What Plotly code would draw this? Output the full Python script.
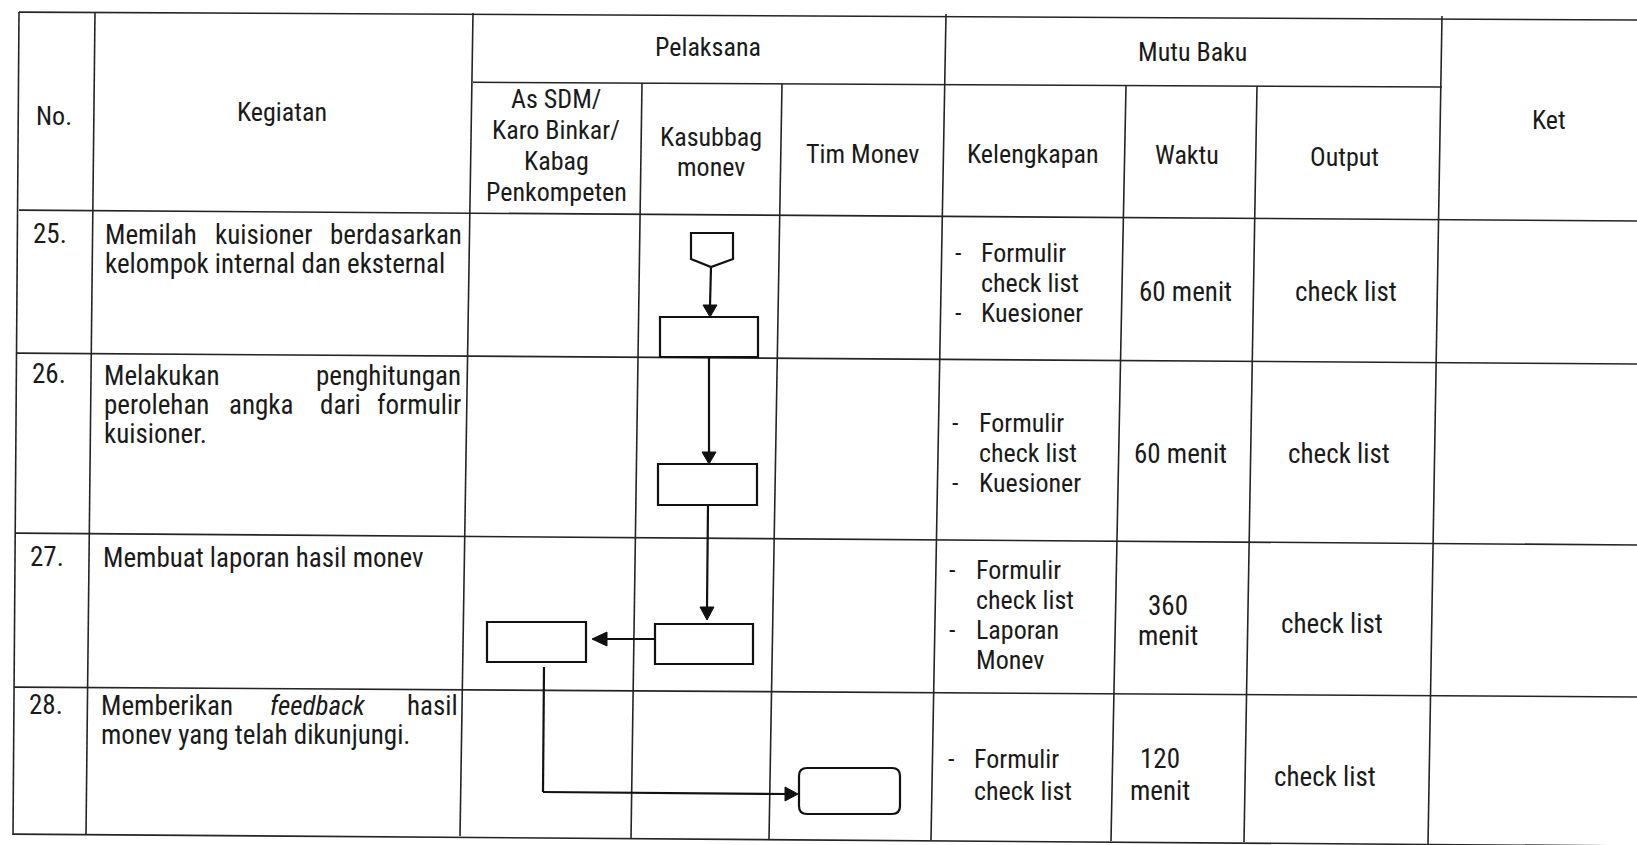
import plotly.graph_objects as go

W, H = 1637, 845

# ---------------- data ----------------
header_no = "No."
header_kegiatan = "Kegiatan"
header_pelaksana = "Pelaksana"
header_mutu = "Mutu Baku"
header_ket = "Ket"
pelaksana_cols = [["As SDM/", "Karo Binkar/", "Kabag", "Penkompeten"],
                  ["Kasubbag", "monev"],
                  ["Tim Monev"]]
mutu_cols = ["Kelengkapan", "Waktu", "Output"]

row_numbers = ["25.", "26.", "27.", "28."]
kegiatan_lines = [
    ["Memilah kuisioner berdasarkan", "kelompok internal dan eksternal"],
    ["Melakukan penghitungan", "perolehan angka dari formulir", "kuisioner."],
    ["Membuat laporan hasil monev"],
    ["Memberikan <i>feedback</i> hasil", "monev yang telah dikunjungi."],
]
kegiatan_justify = [[True, False], [True, True, False], [False], [True, False]]
kelengkapan = [
    [("-", "Formulir"), ("", "check list"), ("-", "Kuesioner")],
    [("-", "Formulir"), ("", "check list"), ("-", "Kuesioner")],
    [("-", "Formulir"), ("", "check list"), ("-", "Laporan"), ("", "Monev")],
    [("-", "Formulir"), ("", "check list")],
]
waktu = [["60 menit"], ["60 menit"], ["360", "menit"], ["120", "menit"]]
output = ["check list", "check list", "check list", "check list"]

# ---------------- style ----------------
FONT = "Liberation Sans Narrow, Arial Narrow, Roboto Condensed, sans-serif"
INK = "#1a1a1a"
LINE = "#242424"
FS_HEAD = 26
FS_BODY = 27
FS_KEL = 26

# Arial widths (em/1000), narrow factor 0.82 (used only to spread justified words)
AW = {c: 556 for c in "abcdeghnopqu0123456789"}
AW.update({"f": 278, "i": 222, "j": 222, "k": 500, "l": 222, "m": 833, "r": 333,
           "s": 500, "t": 278, "v": 500, "w": 722, "x": 500, "y": 500, "z": 500,
           " ": 278, ".": 278, "-": 333, "/": 278, "M": 833, "K": 667, "P": 667})


def text_w(s, fs):
    s = s.replace("<i>", "").replace("</i>", "")
    return sum(AW.get(c, 600) for c in s) / 1000.0 * 0.82 * fs


fig = go.Figure()
shapes = []
annos = []


def seg(x0, y0, x1, y1, w=1.6, color=LINE):
    shapes.append(dict(type="line", x0=x0, y0=y0, x1=x1, y1=y1, xref="x", yref="y",
                       line=dict(color=color, width=w)))


def path(d, fill=None, w=2.2):
    shapes.append(dict(type="path", path=d, xref="x", yref="y",
                       fillcolor=fill if fill else "rgba(0,0,0,0)",
                       line=dict(color="#111", width=w)))


def txt(x, y, s, anchor="center", fs=FS_BODY):
    annos.append(dict(x=x, y=y, xref="x", yref="y", text=s, showarrow=False,
                      xanchor=anchor, yanchor="middle",
                      font=dict(family=FONT, size=fs, color=INK)))


# ---------------- table grid (scan is slightly rotated) ----------------
def hline(yl, yr, x0=0, x1=W):
    seg(x0, yl + (yr - yl) * x0 / W, x1, yl + (yr - yl) * x1 / W)


hline(12, 20, 19, W)          # top border
hline(80, 88, 473, 1442)      # Pelaksana / Mutu Baku sub-line
hline(210, 221, 19, W)        # header bottom
hline(353, 364, 17, W)        # row 25 bottom
hline(533, 545, 16, W)        # row 26 bottom
hline(687, 697, 14, W)        # row 27 bottom
hline(834, 846, 13, W)        # bottom border

seg(19, 12, 13, 835)          # left border
seg(95, 12, 86, 835)
seg(473, 13, 460, 836)
seg(642, 83, 631, 839)
seg(782, 84, 769, 839)
seg(946, 14, 931, 840)
seg(1126, 86, 1111, 841)
seg(1257, 86, 1244, 842)
seg(1442, 16, 1428, 845)

# ---------------- header text ----------------
txt(708, 47, header_pelaksana, fs=FS_HEAD)
txt(1192, 52, header_mutu, fs=FS_HEAD)
txt(54, 116, header_no, fs=FS_HEAD)
txt(282, 112, header_kegiatan, fs=FS_HEAD)
txt(1549, 120, header_ket, fs=FS_HEAD)
for i, s in enumerate(pelaksana_cols[0]):
    txt(556, 99 + i * 31, s, fs=FS_HEAD)
for i, s in enumerate(pelaksana_cols[1]):
    txt(711, 137 + i * 30, s, fs=FS_HEAD)
txt(862, 154, pelaksana_cols[2][0], fs=FS_HEAD)
txt(1033, 154, mutu_cols[0], fs=FS_HEAD)
txt(1187, 155, mutu_cols[1], fs=FS_HEAD)
txt(1344, 157, mutu_cols[2], fs=FS_HEAD)

# ---------------- body ----------------
keg_y = [[235, 264], [376, 405, 434], [558], [706, 735]]
num_y = [234, 374, 557, 705]
num_x = [31, 30, 28, 27]
keg_left = [103, 102, 101, 99]
keg_right = [464, 463, 461, 460]
for r in range(4):
    txt(num_x[r], num_y[r], row_numbers[r], anchor="left")
    for li, line in enumerate(kegiatan_lines[r]):
        y = keg_y[r][li]
        if kegiatan_justify[r][li]:
            words = line.split(" ")
            ws = [text_w(wd, FS_BODY) for wd in words]
            gap = (keg_right[r] - keg_left[r] - sum(ws)) / (len(words) - 1)
            x = keg_left[r]
            for k, wd in enumerate(words):
                if k == 0:
                    txt(keg_left[r], y, wd, anchor="left")
                elif k == len(words) - 1:
                    txt(keg_right[r], y, wd, anchor="right")
                else:
                    txt(x + ws[k] / 2, y, wd, anchor="center")
                x += ws[k] + gap
        else:
            txt(keg_left[r], y, line, anchor="left")

# kelengkapan
kel_y = [[253, 283, 313], [423, 453, 483], [570, 600, 630, 660], [759, 791]]
dash_x = [958, 955, 952, 951]
kel_x = [979, 977, 974, 972]
for r in range(4):
    for i, (d, s) in enumerate(kelengkapan[r]):
        y = kel_y[r][i]
        if d:
            txt(dash_x[r], y, d, fs=FS_KEL)
        txt(kel_x[r], y, s, anchor="left", fs=FS_KEL)

# waktu
w_y = [[292], [454], [606, 636], [759, 791]]
w_x = [1185, 1180, 1168, 1160]
for r in range(4):
    for i, s in enumerate(waktu[r]):
        txt(w_x[r], w_y[r][i], s)

# output
o_y = [292, 454, 624, 777]
o_x = [1346, 1339, 1332, 1325]
for r in range(4):
    txt(o_x[r], o_y[r], output[r])

# ---------------- flowchart ----------------
path("M 691 233 L 733 233 L 733 259 L 711 267 L 691 259 Z")
seg(711, 267, 710, 306, w=2.2, color="#111")
path("M 703 305 L 717 305 L 710 317 Z", fill="#111", w=1)
path("M 660 317 L 758 317 L 758 357 L 660 357 Z")
seg(709, 357, 709, 453, w=2.2, color="#111")
path("M 702 452 L 716 452 L 709 464 Z", fill="#111", w=1)
path("M 658 464 L 757 464 L 757 505 L 658 505 Z")
seg(708, 505, 707, 608, w=2.2, color="#111")
path("M 700 607 L 714 607 L 707 620 Z", fill="#111", w=1)
path("M 655 624 L 753 624 L 753 664 L 655 664 Z")
seg(655, 639, 605, 639, w=2.2, color="#111")
path("M 607 632 L 607 646 L 592 639 Z", fill="#111", w=1)
path("M 487 622 L 586 622 L 586 662 L 487 662 Z")
seg(544, 667, 543, 792, w=2.2, color="#111")
seg(543, 792, 787, 794, w=2.2, color="#111")
path("M 785 787 L 785 801 L 798 794 Z", fill="#111", w=1)
path("M 807 768 L 892 768 Q 900 768 900 776 L 900 806 Q 900 814 892 814 "
     "L 807 814 Q 799 814 799 806 L 799 776 Q 799 768 807 768 Z")

fig.update_layout(
    width=W, height=H,
    margin=dict(l=0, r=0, t=0, b=0),
    paper_bgcolor="white", plot_bgcolor="white",
    xaxis=dict(range=[0, W], visible=False, fixedrange=True),
    yaxis=dict(range=[H, 0], visible=False, fixedrange=True),
    shapes=shapes, annotations=annos, showlegend=False,
)
fig.write_html(
    "out.html",
    config={"displayModeBar": False},
    post_script="document.body.style.margin='0';document.body.style.padding='0';"
                "document.body.style.overflow='hidden';",
)
